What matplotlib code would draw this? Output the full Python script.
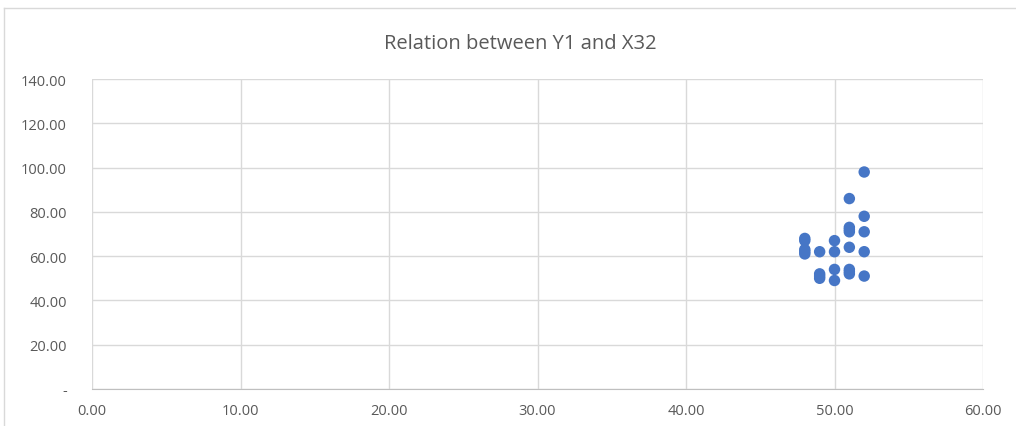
import matplotlib
matplotlib.use('AGG')
import matplotlib.pyplot as plt
from matplotlib.lines import Line2D
from matplotlib.ticker import FuncFormatter, MultipleLocator

x32 = [48, 48, 48, 48, 48,
       49, 49, 49, 49,
       50, 50, 50, 50,
       51, 51, 51, 51, 51, 51, 51, 51,
       52, 52, 52, 52, 52]
y1 = [68, 67, 63, 62, 61,
      62, 52, 51, 50,
      67, 62, 54, 49,
      86, 73, 72, 71, 64, 54, 53, 52,
      98, 78, 71, 62, 51]


def fmt_y(v, pos):
    if abs(v) < 1e-9:
        return '-'
    return '%.2f' % v


def main():
    plt.rcParams['font.family'] = ['Open Sans', 'DejaVu Sans']
    fig = plt.figure(figsize=(10.16, 4.27), dpi=100)
    ax = fig.add_axes([92/1016, 37/427, 891/1016, 310/427])

    ax.scatter(x32, y1, s=68, color='#4676C6', edgecolors='none', zorder=3)

    ax.set_xlim(0, 60)
    ax.set_ylim(0, 140)
    ax.xaxis.set_major_locator(MultipleLocator(10))
    ax.yaxis.set_major_locator(MultipleLocator(20))
    ax.xaxis.set_major_formatter(FuncFormatter(lambda v, p: '%.2f' % v))
    ax.yaxis.set_major_formatter(FuncFormatter(fmt_y))
    ax.grid(True, color='#D9D9D9', linewidth=1)
    ax.set_axisbelow(True)
    for side in ['top', 'right', 'left']:
        ax.spines[side].set_visible(False)
    ax.spines['bottom'].set_color('#BFBFBF')
    ax.tick_params(length=0, labelsize=10.5, labelcolor='#595959', pad=10)
    ax.tick_params(axis='y', pad=18)

    fig.text(0.512, 1 - 44/427, 'Relation between Y1 and X32', ha='center', va='center',
             fontsize=14.5, color='#595959')

    # chart frame
    fig.add_artist(Line2D([4/1016, 1], [1 - 9/427, 1 - 9/427], transform=fig.transFigure,
                          color='#D9D9D9', linewidth=1))
    fig.add_artist(Line2D([4/1016, 4/1016], [0, 1 - 9/427], transform=fig.transFigure,
                          color='#D9D9D9', linewidth=1))

    fig.savefig('out.png', dpi=100)


if "__main__" in __name__:
    main()
